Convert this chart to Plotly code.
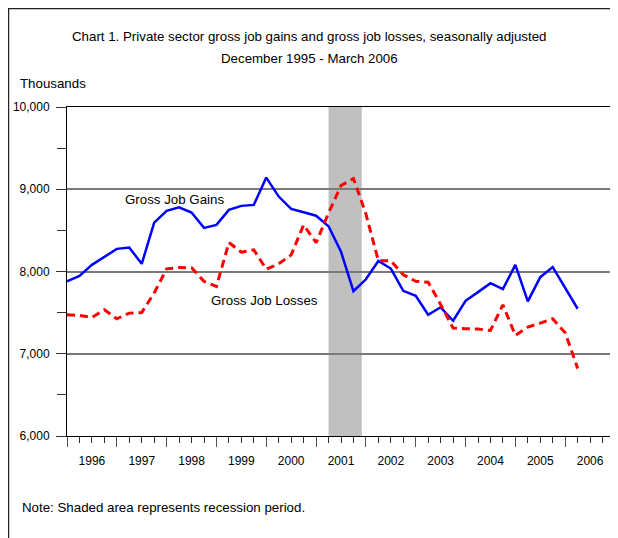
import plotly.graph_objects as go

# ---- data ----
quarters = [f"{y}-{m:02d}" for y, m in
            [(1995, 12)] + [(y, m) for y in range(1996, 2006) for m in (3, 6, 9, 12)] + [(2006, 3)]]

gross_job_gains = [7879, 7947, 8081, 8182, 8275, 8291, 8093, 8595, 8737, 8781,
                   8717, 8530, 8567, 8749, 8798, 8810, 9142, 8911, 8761, 8720,
                   8678, 8550, 8240, 7760, 7905, 8128, 8036, 7765, 7704, 7474,
                   7565, 7401, 7644, 7749, 7858, 7785, 8081, 7636, 7931, 8053,
                   7800, 7547]

gross_job_losses = [7474, 7466, 7441, 7534, 7425, 7494, 7502, 7740, 8032, 8049,
                    8045, 7880, 7818, 8352, 8235, 8263, 8028, 8093, 8202, 8567,
                    8350, 8710, 9045, 9130, 8700, 8130, 8130, 7960, 7880, 7870,
                    7600, 7312, 7304, 7300, 7283, 7595, 7223, 7324, 7372, 7425,
                    7255, 6822]

year_labels = [str(y) for y in range(1996, 2007)]
recession = ("2001-03", "2001-11")

y_ticks = [6000, 7000, 8000, 9000, 10000]


def q_index(s):
    y, m = int(s[:4]), int(s[5:7])
    return (y - 1995) * 4 + (m - 12) / 3


x = [q_index(q) for q in quarters]

FONT = "Liberation Sans, Arial, sans-serif"

fig = go.Figure()
fig.add_trace(go.Scatter(x=x, y=gross_job_gains, mode="lines", name="Gross Job Gains",
                         line=dict(color="#0000FF", width=2.5)))
fig.add_trace(go.Scatter(x=x, y=gross_job_losses, mode="lines", name="Gross Job Losses",
                         xaxis="x2", yaxis="y",
                         line=dict(color="#FF0000", width=3, dash="8px,5px")))

fig.add_shape(type="rect", xref="x", yref="y domain",
              x0=q_index(recession[0]), x1=q_index(recession[1]), y0=0, y1=1,
              fillcolor="#C0C0C0", line_width=0, layer="below")

# outer frame (left and top visible)
fig.add_shape(type="rect", xref="paper", yref="paper",
              x0=-0.1068, x1=1.3, y0=-0.6, y1=1.2994,
              line=dict(color="#222222", width=1.5), fillcolor="rgba(0,0,0,0)")

fig.update_layout(
    width=610, height=530,
    margin=dict(l=59, r=3, t=99, b=102),
    plot_bgcolor="white", paper_bgcolor="white",
    showlegend=False,
    font=dict(family=FONT, size=12, color="black"),
    xaxis=dict(range=[0, 44], tickmode="array", tickvals=list(range(0, 45, 4)),
               showticklabels=False, ticks="outside", ticklen=10, tickcolor="#555",
               minor=dict(tickmode="linear", tick0=0, dtick=1, ticks="outside",
                          ticklen=6, tickcolor="#333", showgrid=False),
               showgrid=False, zeroline=False,
               showline=True, linecolor="black", linewidth=1, mirror=True),
    xaxis2=dict(range=[0, 44], overlaying="x", anchor="y", side="bottom",
                tickmode="array", tickvals=[2 + 4 * i for i in range(len(year_labels))],
                ticktext=year_labels, ticks="", showgrid=False, zeroline=False,
                showline=False, ticklabelstandoff=16,
                tickfont=dict(family=FONT, size=12, color="black")),
    yaxis=dict(range=[6000, 10000], tickmode="array", tickvals=y_ticks,
               tickformat=",d", ticks="outside", ticklen=10, tickcolor="#333",
               ticklabelstandoff=4,
               minor=dict(dtick=500, ticks="outside", ticklen=9, tickcolor="#333",
                          showgrid=False),
               showgrid=True, gridcolor="#7A7A7A", gridwidth=1.5, zeroline=False,
               showline=True, linecolor="black", linewidth=1, mirror=True,
               tickfont=dict(family=FONT, size=12, color="black")),
)

ann_font = dict(family=FONT, size=13.3, color="black")
fig.add_annotation(text="Chart 1. Private sector gross job gains and gross job losses, seasonally adjusted",
                   xref="paper", yref="paper", x=0.4434, y=1.2158, showarrow=False,
                   xanchor="center", yanchor="middle", font=ann_font)
fig.add_annotation(text="December 1995 - March 2006",
                   xref="paper", yref="paper", x=0.4434, y=1.1459, showarrow=False,
                   xanchor="center", yanchor="middle", font=ann_font)
fig.add_annotation(text="Thousands", xref="paper", yref="paper", x=-0.0895, y=1.0729,
                   showarrow=False, xanchor="left", yanchor="middle", font=ann_font)
fig.add_annotation(text="Note: Shaded area represents recession period.",
                   xref="paper", yref="paper", x=-0.0865, y=-0.2188,
                   showarrow=False, xanchor="left", yanchor="middle", font=ann_font)
fig.add_annotation(text="Gross Job Gains", xref="x", yref="y", x=8.63, y=8881,
                   showarrow=False, xanchor="center", yanchor="middle", font=ann_font)
fig.add_annotation(text="Gross Job Losses", xref="x", yref="y", x=15.82, y=7645,
                   showarrow=False, xanchor="center", yanchor="middle", font=ann_font)

fig.write_html("out.html")
